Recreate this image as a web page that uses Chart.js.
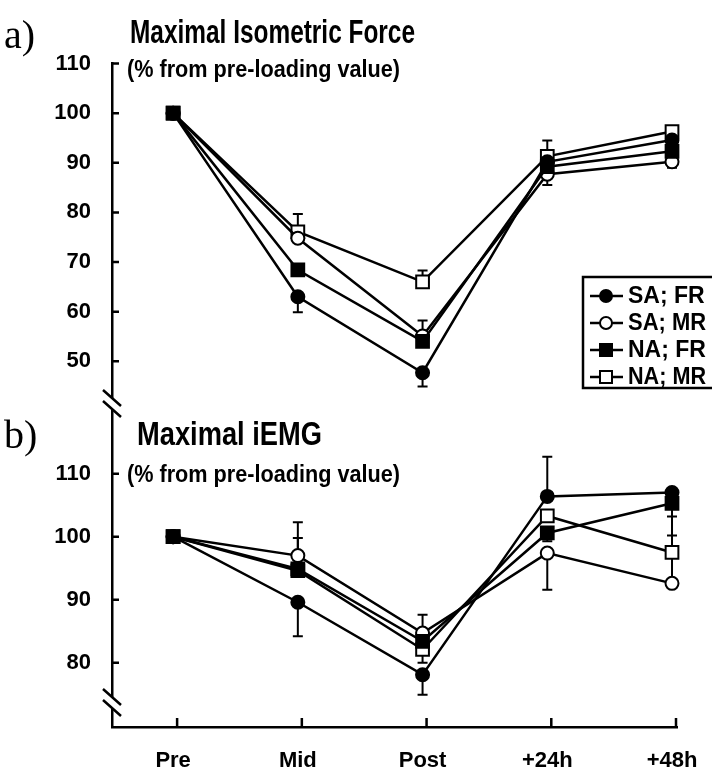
<!DOCTYPE html>
<html>
<head>
<meta charset="utf-8">
<script src="https://cdn.jsdelivr.net/npm/chart.js@4"></script>
<style>
  html, body { margin: 0; padding: 0; background: #fff; }
</style>
</head>
<body>
<canvas id="myChart" width="712" height="773"></canvas>
<script>
const timepoints = ['Pre', 'Mid', 'Post', '+24h', '+48h'];
const groups = ['SA; FR', 'SA; MR', 'NA; FR', 'NA; MR'];

// a) maximal isometric force (% from pre-loading value)
const forceSAFR = [100, 63.0, 47.7, 90.2, 94.6];
const forceSAMR = [100, 74.8, 55.1, 87.7, 90.2];
const forceNAFR = [100, 68.4, 54.0, 89.2, 92.3];
const forceNAMR = [100, 76.1, 66.0, 91.3, 96.3];
// error bars: positive = drawn up, negative = drawn down, null = not shown
const forceSAFRErr = [null, -3.1, -2.8, null, null];
const forceSAMRErr = [null, null, 3.1, -2.2, -1.2];
const forceNAFRErr = [null, null, null, null, null];
const forceNAMRErr = [null, 3.6, 2.3, 3.2, 0.9];

// b) maximal iEMG (% from pre-loading value)
const emgSAFR = [100, 89.6, 78.1, 106.4, 107.0];
const emgSAMR = [100, 97.0, 84.7, 97.4, 92.6];
const emgNAFR = [100, 94.9, 83.4, 100.6, 105.3];
const emgNAMR = [100, 94.6, 82.1, 103.3, 97.5];
const emgSAFRErr = [null, -5.4, -3.2, 6.3, null];
const emgSAMRErr = [null, 5.3, 2.9, -5.8, 5.0];
const emgNAFRErr = [null, null, null, -1.3, -5.1];
const emgNAMRErr = [null, 5.2, -2.1, null, 5.7];

const forceTicks = [50, 60, 70, 80, 90, 100, 110];
const emgTicks = [80, 90, 100, 110];

const FONT = '"Liberation Sans", Arial, sans-serif';
const SERIF = '"Liberation Serif", "DejaVu Serif", serif';

// marker look per group, same order as groups
const markers = [
    { style: 'circle', fill: '#000', r: 6.5 },
    { style: 'circle', fill: '#fff', r: 6.5 },
    { style: 'rect', fill: '#000', r: 9 },
    { style: 'rect', fill: '#fff', r: 9 },
];
// draw order: NA; FR on top, then SA; MR, SA; FR, NA; MR
const drawOrder = [2, 1, 0, 3];

const forceSeries = [forceSAFR, forceSAMR, forceNAFR, forceNAMR];
const forceErrs = [forceSAFRErr, forceSAMRErr, forceNAFRErr, forceNAMRErr];
const emgSeries = [emgSAFR, emgSAMR, emgNAFR, emgNAMR];
const emgErrs = [emgSAFRErr, emgSAMRErr, emgNAFRErr, emgNAMRErr];

const makeDataset = (values, errs, g, axis) => ({
    label: groups[g],
    yAxisID: axis,
    data: values.map((v, i) => ({ x: i, y: v })),
    err: errs,
    borderColor: '#000',
    borderWidth: 2.5,
    backgroundColor: markers[g].fill,
    pointBackgroundColor: markers[g].fill,
    pointBorderColor: '#000',
    pointBorderWidth: 2,
    pointStyle: markers[g].style,
    pointRadius: markers[g].r,
    tension: 0,
    clip: false,
    order: drawOrder[g],
});

const datasets = [];
groups.forEach((name, g) => {
    datasets.push(makeDataset(forceSeries[g], forceErrs[g], g, 'yF'));
    datasets.push(makeDataset(emgSeries[g], emgErrs[g], g, 'yE'));
});

const errorBars = {
    id: 'errorBars',
    beforeDatasetsDraw(chart) {
        const ctx = chart.ctx;
        const xs = chart.scales.x;
        ctx.save();
        ctx.strokeStyle = '#000';
        ctx.lineWidth = 2;
        chart.data.datasets.forEach(ds => {
            const ys = chart.scales[ds.yAxisID];
            ds.data.forEach((p, i) => {
                const e = ds.err[i];
                if (e === null) return;
                const x = xs.getPixelForValue(p.x);
                const y0 = ys.getPixelForValue(p.y);
                const y1 = ys.getPixelForValue(p.y + e);
                ctx.beginPath();
                ctx.moveTo(x, y0);
                ctx.lineTo(x, y1);
                ctx.moveTo(x - 5, y1);
                ctx.lineTo(x + 5, y1);
                ctx.stroke();
            });
        });
        ctx.restore();
    }
};

const decorations = {
    id: 'decorations',
    afterDraw(chart) {
        const ctx = chart.ctx;
        const { x, yF, yE } = chart.scales;
        const area = chart.chartArea;
        ctx.save();
        ctx.strokeStyle = '#000';
        ctx.fillStyle = '#000';
        ctx.lineWidth = 2.5;

        // inward tick marks
        ctx.beginPath();
        forceTicks.forEach(v => {
            const y = yF.getPixelForValue(v);
            ctx.moveTo(area.left, y);
            ctx.lineTo(area.left + 7, y);
        });
        emgTicks.forEach(v => {
            const y = yE.getPixelForValue(v);
            ctx.moveTo(area.left, y);
            ctx.lineTo(area.left + 7, y);
        });
        timepoints.forEach((t, i) => {
            const px = i === timepoints.length - 1 ? area.right - 1 : x.getPixelForValue(i) + 4;
            ctx.moveTo(px, area.bottom);
            ctx.lineTo(px, area.bottom - 9);
        });
        ctx.stroke();

        // axis breaks
        const brk = (cy) => {
            ctx.fillStyle = '#fff';
            ctx.fillRect(area.left - 3, cy - 6, 6, 12);
            ctx.beginPath();
            ctx.moveTo(area.left - 9, cy - 14);
            ctx.lineTo(area.left + 9, cy + 2);
            ctx.moveTo(area.left - 9, cy - 3);
            ctx.lineTo(area.left + 9, cy + 13);
            ctx.stroke();
        };
        brk(yF.bottom + 4);
        brk(area.bottom - 24);

        // panel letters and titles
        ctx.fillStyle = '#000';
        ctx.textBaseline = 'alphabetic';
        ctx.textAlign = 'left';
        ctx.font = '40px ' + SERIF;
        ctx.fillText('a)', 4, 48);
        ctx.fillText('b)', 4, 448);
        ctx.font = 'bold 34px ' + FONT;
        ctx.fillText('Maximal Isometric Force', 130, 43, 285);
        ctx.fillText('Maximal iEMG', 137, 445, 185);
        ctx.font = 'bold 23px ' + FONT;
        ctx.fillText('(% from pre-loading value)', 127, 77, 273);
        ctx.fillText('(% from pre-loading value)', 127, 482, 273);

        // legend box
        ctx.lineWidth = 2.5;
        ctx.strokeRect(583, 277, 140, 111);
        groups.forEach((name, g) => {
            const cy = 296 + g * 27;
            ctx.beginPath();
            ctx.moveTo(590, cy);
            ctx.lineTo(623, cy);
            ctx.lineWidth = 2.5;
            ctx.stroke();
            ctx.lineWidth = 2;
            ctx.fillStyle = markers[g].fill;
            ctx.beginPath();
            if (markers[g].style === 'circle') {
                ctx.arc(606, cy, 6, 0, Math.PI * 2);
            } else {
                ctx.rect(600, cy - 6, 12, 12);
            }
            ctx.fill();
            ctx.stroke();
            ctx.fillStyle = '#000';
            ctx.font = 'bold 23px ' + FONT;
            ctx.textBaseline = 'middle';
            ctx.fillText(name, 628, cy + 1, 78);
        });
        ctx.restore();
    }
};

const tickFont = { family: FONT, size: 22, weight: 'bold' };

const chart = new Chart(document.getElementById('myChart').getContext('2d'), {
    type: 'line',
    data: { datasets },
    options: {
        responsive: false,
        animation: false,
        layout: { padding: { top: 63, right: 35, left: 0, bottom: 0 } },
        plugins: { legend: { display: false }, tooltip: { enabled: false } },
        scales: {
            x: {
                type: 'linear',
                min: -0.49,
                max: 4.04,
                afterBuildTicks: s => { s.ticks = timepoints.map((t, i) => ({ value: i })); },
                afterFit: s => { s.height = 46; },
                ticks: { callback: v => timepoints[v], color: '#000', font: tickFont, padding: 13, maxRotation: 0 },
                grid: { display: false },
                border: { color: '#000', width: 2.5 },
            },
            yF: {
                type: 'linear',
                position: 'left',
                stack: 'panels',
                stackWeight: 337,
                weight: 2,
                min: 42.2,
                max: 110.1,
                afterBuildTicks: s => { s.ticks = forceTicks.map(v => ({ value: v })); },
                afterFit: s => { s.width = 112; },
                ticks: { color: '#000', font: tickFont, padding: 13 },
                grid: { display: false },
                border: { color: '#000', width: 2.5 },
            },
            yE: {
                type: 'linear',
                position: 'left',
                stack: 'panels',
                stackWeight: 327,
                weight: 1,
                min: 69.8,
                max: 121.7,
                afterBuildTicks: s => { s.ticks = emgTicks.map(v => ({ value: v })); },
                afterFit: s => { s.width = 112; },
                ticks: { color: '#000', font: tickFont, padding: 13 },
                grid: { display: false },
                border: { color: '#000', width: 2.5 },
            },
        },
    },
    plugins: [errorBars, decorations],
});
</script>
</body>
</html>
